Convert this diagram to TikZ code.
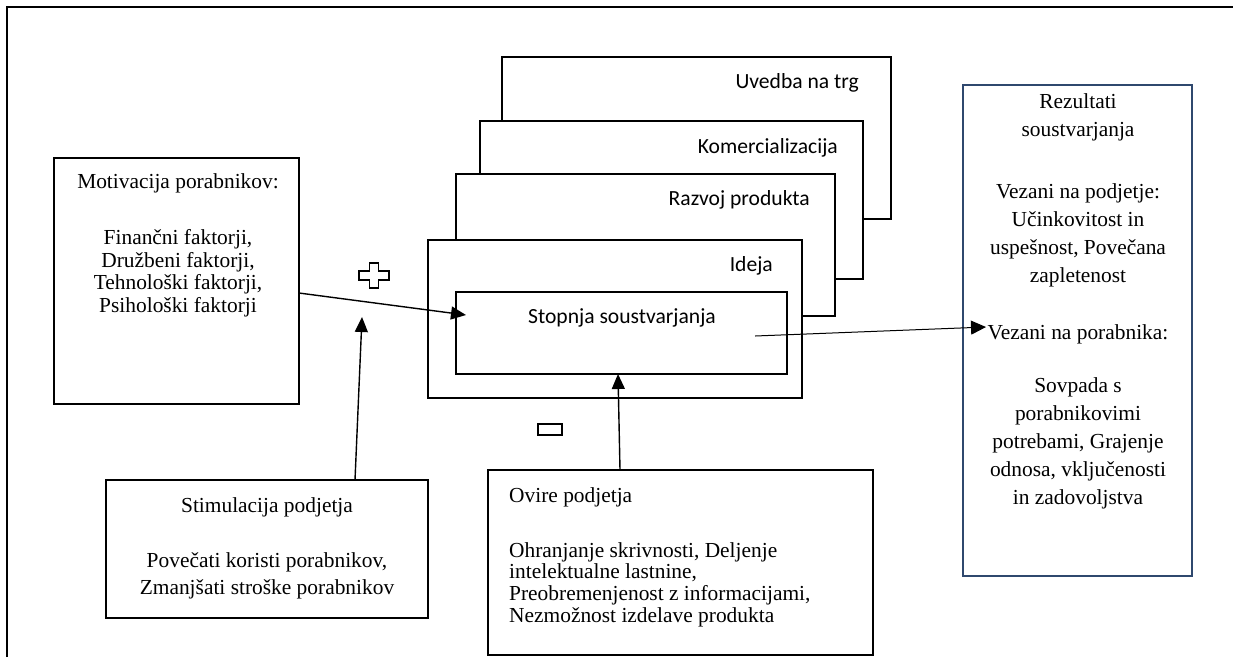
\documentclass[tikz,border=0pt]{standalone}
\usepackage{fontspec}
\setmainfont{Liberation Serif}
\newfontfamily\calib{Carlito}
\usetikzlibrary{arrows.meta}
\definecolor{rezblue}{RGB}{47,72,110}
\begin{document}
\begin{tikzpicture}[x=1pt,y=-1pt,
  box/.style={draw, line width=1.8pt, fill=white, inner sep=0pt, outer sep=0pt, anchor=north west},
  lbl/.style={font=\calib\fontsize{21.6}{25}\selectfont, inner sep=0pt, anchor=base east},
  txt/.style={inner sep=0pt, anchor=base},
  arr/.style={-{Triangle[length=15pt,width=13pt]}, line width=1.4pt},
  sign/.style={draw, line width=1.5pt}
]
\useasboundingbox (0,0) rectangle (1233,657);
% outer frame
\draw[line width=2.5pt] (7,657) -- (7,7) -- (1233,7);

% stacked stage cards (back to front)
\node[box, minimum width=389pt, minimum height=162pt] (uvedba) at (502,57) {};
\node[lbl] (uvedbaL) at (859,88) {Uvedba na trg};
\node[box, minimum width=383pt, minimum height=158pt] (komerc) at (480,121) {};
\node[lbl] (komercL) at (838,153) {Komercializacija};
\node[box, minimum width=379pt, minimum height=142pt] (razvoj) at (456,174) {};
\node[lbl] (razvojL) at (810,205) {Razvoj produkta};
\node[box, minimum width=374pt, minimum height=158pt] (ideja) at (428,240) {};
\node[lbl] (idejaL) at (773,271) {Ideja};
\node[box, minimum width=331pt, minimum height=82pt] (stopnja) at (456,292) {};
\node[lbl, anchor=base] (stopnjaL) at (622,323) {Stopnja soustvarjanja};

% Motivacija
\node[box, minimum width=245pt, minimum height=246pt] (motiv) at (54,158) {};
\node[txt, font=\fontsize{21.4}{22.5}\selectfont] (motivT) at (178,188)
  {\begin{tabular}[t]{@{}c@{}}Motivacija porabnikov:\\[34pt]
   Finančni faktorji,\\ Družbeni faktorji,\\ Tehnološki faktorji,\\ Psihološki faktorji\end{tabular}};

% Stimulacija
\node[box, minimum width=322pt, minimum height=138pt] (stim) at (106,480) {};
\node[txt, font=\fontsize{21.4}{27.5}\selectfont] (stimT) at (267,512)
  {\begin{tabular}[t]{@{}c@{}}Stimulacija podjetja\\[27.5pt]
   Povečati koristi porabnikov,\\ Zmanjšati stroške porabnikov\end{tabular}};

% Ovire
\node[box, minimum width=385pt, minimum height=185pt] (ovire) at (488,470) {};
\node[txt, anchor=base west, font=\fontsize{21.4}{21.7}\selectfont] (ovireT) at (509,502)
  {\begin{tabular}[t]{@{}l@{}}Ovire podjetja\\[33.3pt]
   Ohranjanje skrivnosti, Deljenje\\ intelektualne lastnine,\\
   Preobremenjenost z informacijami,\\ Nezmožnost izdelave produkta\end{tabular}};

% Rezultati
\node[box, draw=rezblue, line width=2pt, minimum width=229pt, minimum height=491pt] (rez) at (963,85) {};
\node[txt, font=\fontsize{21.4}{28}\selectfont] (rezT) at (1078,108)
  {\begin{tabular}[t]{@{}c@{}}Rezultati\\ soustvarjanja\\[34pt]
   Vezani na podjetje:\\ Učinkovitost in\\ uspešnost, Povečana\\ zapletenost\\[29pt]
   Vezani na porabnika:\\[25pt]
   Sovpada s\\ porabnikovimi\\ potrebami, Grajenje\\ odnosa, vključenosti\\ in zadovoljstva\end{tabular}};

% connector ends
\coordinate (motivOut) at (299,293);
\coordinate (stopIn1) at (466,315);
\coordinate (stimOut) at (355,480);
\coordinate (stimIn) at (362,317);
\coordinate (ovireOut) at (620,470);
\coordinate (stopIn2) at (618,374);
\coordinate (stopOut) at (755,336);
\coordinate (rezIn) at (986,327);

\draw[arr] (motivOut) -- (stopIn1);
\draw[arr] (stimOut) -- (stimIn);
\draw[arr] (ovireOut) -- (stopIn2);
\draw[-{Triangle[length=15pt,width=14pt]}, line width=1pt] (stopOut) -- (rezIn);

% plus and minus signs
\draw[sign] (369.5,263) -- (378.5,263) -- (378.5,271) -- (389,271) -- (389,280) -- (378.5,280)
  -- (378.5,288) -- (369.5,288) -- (369.5,280) -- (359,280) -- (359,271) -- (369.5,271) -- cycle;
\draw[sign] (538,424) rectangle (562,435);
\end{tikzpicture}
\end{document}
